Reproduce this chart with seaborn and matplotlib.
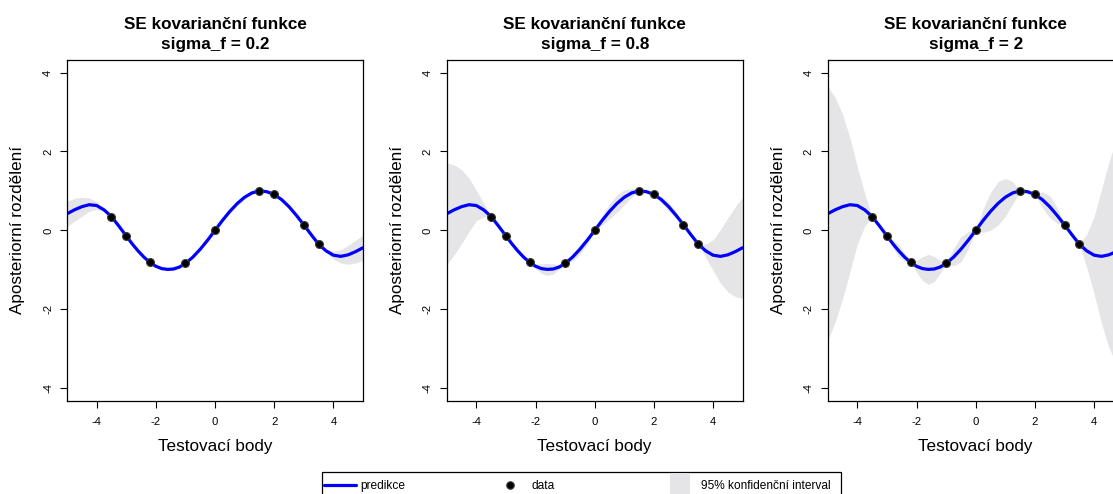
import numpy as np
import pandas as pd
import matplotlib
matplotlib.use("Agg")
import matplotlib.pyplot as plt
from matplotlib.patches import Rectangle
from matplotlib.lines import Line2D
from matplotlib.legend_handler import HandlerPatch
import seaborn as sns

# ---------------- data ----------------
sigma_values = ["0.2", "0.8", "2"]

data_x = [-3.5, -3.0, -2.2, -1.0, 0.0, 1.5, 2.0, 3.0, 3.5]
data_y = [0.35, -0.14, -0.81, -0.84, 0.0, 1.0, 0.91, 0.14, -0.35]

grid_x = [-5.0, -4.75, -4.5, -4.25, -4.0, -3.75, -3.5, -3.25, -3.0, -2.8, -2.6, -2.4,
          -2.2, -2.0, -1.8, -1.6, -1.4, -1.2, -1.0, -0.75, -0.5, -0.25, 0.0, 0.25,
          0.5, 0.75, 1.0, 1.25, 1.5, 1.75, 2.0, 2.25, 2.5, 2.75, 3.0, 3.25, 3.5,
          3.75, 4.0, 4.25, 4.5, 4.75, 5.0]

mean_y = [0.42, 0.52, 0.60, 0.65, 0.63, 0.52, 0.35, 0.11, -0.14, -0.34, -0.52, -0.68,
          -0.81, -0.91, -0.97, -0.99, -0.98, -0.93, -0.84, -0.68, -0.48, -0.25, 0.0, 0.25,
          0.48, 0.68, 0.84, 0.95, 1.0, 0.98, 0.91, 0.78, 0.60, 0.38, 0.14, -0.11, -0.35,
          -0.52, -0.63, -0.66, -0.62, -0.54, -0.44]

# half-width of the 95% band, one list per panel
band_02 = [0.32, 0.29, 0.24, 0.17, 0.10, 0.04, 0.0, 0.005, 0.0, 0.01, 0.015, 0.01,
           0.0, 0.015, 0.03, 0.04, 0.03, 0.015, 0.0, 0.02, 0.03, 0.02, 0.0, 0.03,
           0.05, 0.055, 0.05, 0.03, 0.0, 0.005, 0.0, 0.02, 0.03, 0.02, 0.0, 0.005, 0.0,
           0.04, 0.10, 0.17, 0.24, 0.29, 0.32]
band_08 = [1.29, 1.14, 0.94, 0.68, 0.39, 0.17, 0.0, 0.02, 0.0, 0.04, 0.06, 0.04,
           0.0, 0.06, 0.12, 0.15, 0.13, 0.06, 0.0, 0.09, 0.13, 0.09, 0.0, 0.12,
           0.19, 0.22, 0.19, 0.11, 0.0, 0.02, 0.0, 0.08, 0.11, 0.08, 0.0, 0.02, 0.0,
           0.17, 0.39, 0.68, 0.94, 1.14, 1.29]
band_2 = [3.23, 2.85, 2.35, 1.70, 0.98, 0.42, 0.0, 0.04, 0.0, 0.10, 0.15, 0.10,
          0.0, 0.15, 0.30, 0.38, 0.32, 0.16, 0.0, 0.22, 0.32, 0.22, 0.0, 0.30,
          0.48, 0.55, 0.48, 0.28, 0.0, 0.05, 0.0, 0.20, 0.28, 0.20, 0.0, 0.05, 0.0,
          0.42, 0.98, 1.70, 2.35, 2.85, 3.23]
bands = [band_02, band_08, band_2]

x_ticks = [-4, -2, 0, 2, 4]
y_ticks = [-4, -2, 0, 2, 4]

title_main = "SE kovarianční funkce"
x_label = "Testovací body"
y_label = "Aposteriorní rozdělení"
legend_labels = ["predikce", "data", "95% konfidenční interval"]

# ---------------- styling ----------------
sns.set_theme(style="white")
plt.rcParams["font.family"] = ["Liberation Sans", "DejaVu Sans"]
plt.rcParams["axes.edgecolor"] = "black"
plt.rcParams["text.color"] = "black"
plt.rcParams["axes.labelcolor"] = "black"
plt.rcParams["xtick.color"] = "black"
plt.rcParams["ytick.color"] = "black"

W, H = 1113, 494
fig = plt.figure(figsize=(W / 100, H / 100), dpi=100)


def fx(px):
    return px / W


def fy(py):
    return 1 - py / H


BAND_COLOR = "#E5E5E8"
LINE_COLOR = "#0000FF"

lefts = [67, 446.7, 827.7]
ax_w, ax_top, ax_bot = 296, 60, 400.7

curve = pd.DataFrame({"x": grid_x, "mean": mean_y})
pts = pd.DataFrame({"x": data_x, "y": data_y})

for i, left in enumerate(lefts):
    ax = fig.add_axes([fx(left), fy(ax_bot), ax_w / W, (ax_bot - ax_top) / H])
    hw = np.array(bands[i])
    m = np.array(mean_y)
    ax.fill_between(grid_x, m - hw, m + hw, color=BAND_COLOR, lw=0, zorder=1)
    sns.lineplot(data=curve, x="x", y="mean", ax=ax, color=LINE_COLOR, lw=2.3,
                 estimator=None, sort=False, zorder=2)
    sns.scatterplot(data=pts, x="x", y="y", ax=ax, color="black", s=32,
                    edgecolor="#3a3a3a", linewidth=0.8, zorder=3)
    ax.set_xlim(-5, 5)
    ax.set_ylim(-4.32, 4.32)
    ax.set_xticks(x_ticks)
    ax.set_yticks(y_ticks)
    ax.set_xticklabels([str(t) for t in x_ticks])
    ax.set_yticklabels([str(t) for t in y_ticks], rotation=90, va="center")
    ax.tick_params(direction="out", length=5, width=0.8, colors="black",
                   labelsize=8.1, bottom=True, left=True)
    ax.tick_params(axis="x", pad=7)
    ax.tick_params(axis="y", pad=5)
    for sp in ax.spines.values():
        sp.set_linewidth(0.9)
        sp.set_color("black")
    ax.set_xlabel("")
    ax.set_ylabel("")
    ax.set_title(f"{title_main}\nsigma_f = {sigma_values[i]}", fontsize=12.3,
                 fontweight="bold", pad=8, linespacing=1.4, color="black")
    cx = left + ax_w / 2
    fig.text(fx(cx), fy(446.7), x_label, ha="center", va="center", fontsize=12.3)
    fig.text(fx(left - 49), fy((ax_top + ax_bot) / 2), y_label, ha="center",
             va="center", rotation=90, fontsize=12.3)

# ---------------- legend ----------------
fs_leg = 8.6
em_px = fs_leg * 100 / 72
row_y = 485.7


def rect_patch(legend, orig_handle, xdescent, ydescent, width, height, fontsize):
    pw, ph = 14.4, 16.4
    return Rectangle((-xdescent + (width - pw) / 2, -ydescent + height / 2 - ph / 2), pw, ph)


handles = [
    Line2D([], [], color=LINE_COLOR, lw=2.3),
    Line2D([], [], color="black", marker="o", ls="", markersize=5.4,
           markeredgecolor="#3a3a3a", markeredgewidth=0.8),
    Rectangle((0, 0), 1, 1, facecolor=BAND_COLOR, edgecolor="none"),
]
starts = [323.7, 494.0, 664.3]
for h, lab, st in zip(handles, legend_labels, starts):
    hm = {Rectangle: HandlerPatch(patch_func=rect_patch)}
    leg = fig.legend([h], [lab], loc="center left", bbox_to_anchor=(fx(st), fy(row_y)),
                     frameon=False, borderpad=0, borderaxespad=0, fontsize=fs_leg,
                     handlelength=32 / em_px, handletextpad=5 / em_px, handler_map=hm)

fig.patches.append(Rectangle((fx(321.7), fy(505)), (841 - 321.7) / W, (505 - 471.7) / H,
                             transform=fig.transFigure, fill=False, edgecolor="black",
                             lw=0.9, zorder=0))

fig.savefig("out.png", dpi=100)
